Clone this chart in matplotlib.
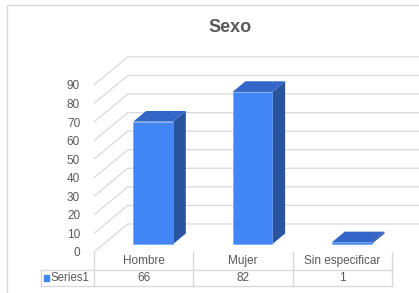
import matplotlib
matplotlib.use("Agg")
import matplotlib.pyplot as plt
from matplotlib.patches import Rectangle

plt.rcParams['font.family'] = ['Liberation Sans', 'DejaVu Sans']

# DATA
categories = ["Hombre", "Mujer", "Sin especificar"]
values = [66, 82, 1]
series_name = "Series1"
y_ticks = [0, 10, 20, 30, 40, 50, 60, 70, 80, 90]
title = "Sexo"

# COLORS
FRONT = "#4285F4"
SIDE = "#2A559E"
TOP = "#3366C8"
GRID = "#D9D9D9"
TEXT = "#595959"

# fake 3d depth (in data units: category, value)
DX = 0.34
DY = 15.1
T0, T1 = 0.28, 0.66
BAR_W = 0.40

W, H = 419, 293
fig = plt.figure(figsize=(W / 100, H / 100), dpi=100)

# outer chart border
fig.patches.append(Rectangle((7 / W, -0.05), 1.2, 1 - 5 / H + 0.05,
                             transform=fig.transFigure, fill=False,
                             edgecolor=GRID, linewidth=1.0))

fig.text(230 / W, 1 - 27 / H, title, ha="center", va="center",
         fontsize=13, fontweight="bold", color=TEXT)

# =========================================================
# MAIN 3D-LOOKING PLOT
# =========================================================
ax = fig.add_axes([94 / W, (H - 252) / H, (W - 94) / W, (252 - 40) / H])
ax.set_xlim(-0.5, 2.772)
ax.set_ylim(0, 114.2)
for s in ax.spines.values():
    s.set_visible(False)
ax.set_xticks([])
ax.set_yticks(y_ticks)
ax.tick_params(axis="y", length=0, pad=10, labelsize=8.5, labelcolor=TEXT)
ax.patch.set_alpha(0)

# side wall + back wall gridlines
for v in y_ticks:
    ax.plot([-0.5, -0.5 + DX, 3.5], [v, v + DY, v + DY],
            color=GRID, linewidth=0.9, zorder=1, solid_capstyle="butt")

for i, val in enumerate(values):
    x0 = i - BAR_W / 2 + T0 * DX
    x1 = x0 + BAR_W
    b0 = T0 * DY
    top = b0 + val
    ddx = (T1 - T0) * DX
    ddy = (T1 - T0) * DY
    # side face
    ax.fill([x1, x1 + ddx, x1 + ddx, x1], [b0, b0 + ddy, top + ddy, top],
            color=SIDE, zorder=3, linewidth=0)
    # top face
    ax.fill([x0, x1, x1 + ddx, x0 + ddx], [top, top, top + ddy, top + ddy],
            color=TOP, zorder=3, linewidth=0)
    # front face
    ax.bar(x0 + BAR_W / 2, val, width=BAR_W, bottom=b0, color=FRONT,
           edgecolor="#6FA3F7", linewidth=0.4, zorder=4)

# =========================================================
# DATA TABLE
# =========================================================
tx = fig.add_axes([41 / W, (H - 286) / H, (392 - 41) / W, (286 - 252) / H])
tx.set_xlim(-0.5 - 53 / 99.33, 2.5)
tx.set_ylim(0, 2.1)
tx.axis("off")

left = tx.get_xlim()[0]
for k in range(len(categories) + 1):
    tx.plot([k - 0.5, k - 0.5], [0, 2.1], color=GRID, linewidth=1.0, clip_on=False)
tx.plot([left, left], [0, 1], color=GRID, linewidth=1.0, clip_on=False)
tx.plot([left, 2.5], [1, 1], color=GRID, linewidth=1.0, clip_on=False)
tx.plot([left, 2.5], [0, 0], color=GRID, linewidth=1.0, clip_on=False)

for i, (c, v) in enumerate(zip(categories, values)):
    tx.text(i, 1.55, c, ha="center", va="center", fontsize=8.5, color=TEXT)
    tx.text(i, 0.5, str(v), ha="center", va="center", fontsize=8.5, color=TEXT)

tx.add_patch(Rectangle((left + 0.03, 0.32), 0.055, 0.36, color=FRONT,
                       clip_on=False))
tx.text(left + 0.1, 0.5, series_name, ha="left", va="center",
        fontsize=8.3, color=TEXT)

fig.savefig("out.png", dpi=100)
